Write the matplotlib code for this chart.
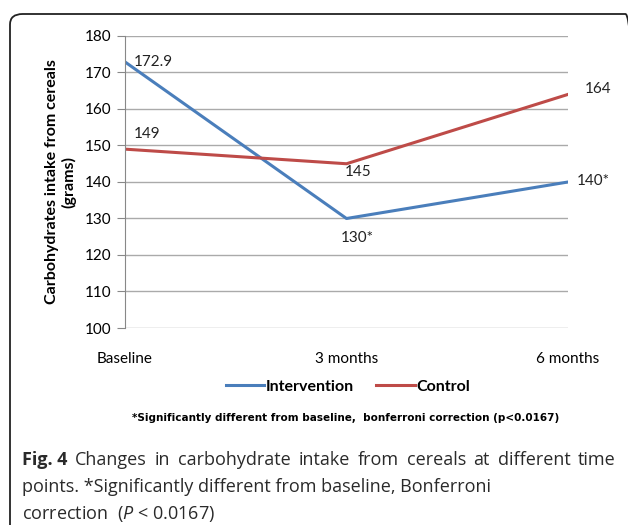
import matplotlib
matplotlib.use("Agg")
import matplotlib.pyplot as plt
from matplotlib.patches import FancyBboxPatch

timepoints = ["Baseline", "3 months", "6 months"]
intervention = [172.9, 130, 140]
control = [149, 145, 164]
intervention_labels = ["172.9", "130*", "140*"]
control_labels = ["149", "145", "164"]
yticks = [100, 110, 120, 130, 140, 150, 160, 170, 180]

blue = "#4A7EBB"
red = "#BE4B48"
plt.rcParams["font.family"] = ["Lato", "DejaVu Sans"]
plt.rcParams["mathtext.fontset"] = "custom"
plt.rcParams["mathtext.it"] = "Open Sans:italic"
plt.rcParams["mathtext.rm"] = "Open Sans"

W, H = 628, 525
fig = plt.figure(figsize=(W / 100, H / 100), dpi=100)

# rounded frame around the chart (right and bottom edges run off the image)
frame = FancyBboxPatch((10 / W, -0.05), 1.0, 1 - 14 / H + 0.05,
                       boxstyle="round,pad=0,rounding_size=0.02",
                       transform=fig.transFigure, fill=False,
                       edgecolor="#222222", linewidth=1.3)
fig.patches.append(frame)

ax = fig.add_axes([125 / W, 1 - 328 / H, (568 - 125) / W, (328 - 36) / H])
x = list(range(len(timepoints)))
ax.plot(x, intervention, color=blue, linewidth=2.2, label="Intervention")
ax.plot(x, control, color=red, linewidth=2.2, label="Control")

ax.set_xlim(0, 2)
ax.set_ylim(100, 180)
ax.set_yticks(yticks)
ax.set_xticks(x)
ax.set_xticklabels(timepoints, fontsize=11)
ax.tick_params(axis="x", length=0, pad=17)
ax.tick_params(axis="y", length=6, color="#888888", labelsize=11, pad=4)
ax.grid(axis="y", color="#AAAAAA", linewidth=1)
ax.set_axisbelow(True)
for side in ["top", "right", "bottom"]:
    ax.spines[side].set_visible(False)
ax.spines["left"].set_color("#888888")
ax.set_ylabel("Carbohydrates intake from cereals\n(grams)", fontsize=11.5,
              fontweight="bold", labelpad=6, linespacing=1.15)

# data labels
offsets_i = [(6, 0), (-4, -14), (6, 1)]
offsets_c = [(6, 11), (-1.5, -6), (12, 4)]
for xi, v, t, off in zip(x, intervention, intervention_labels, offsets_i):
    ax.annotate(t, (xi, v), xytext=off, textcoords="offset points",
                fontsize=11, color="#222222", va="center", ha="left",
                annotation_clip=False)
for xi, v, t, off in zip(x, control, control_labels, offsets_c):
    ax.annotate(t, (xi, v), xytext=off, textcoords="offset points",
                fontsize=11, color="#222222", va="center", ha="left",
                annotation_clip=False)

fig.legend(loc="center", bbox_to_anchor=(348 / W, 1 - 387 / H), ncol=2,
           frameon=False, prop={"weight": "bold", "size": 11.5},
           handlelength=2.4, handletextpad=0.1, columnspacing=1.4)

fig.text(132 / W, 1 - 418 / H,
         "*Significantly different from baseline,  bonferroni correction (p<0.0167)",
         ha="left", va="center", fontsize=7.5, fontweight="bold",
         family=["Liberation Sans Narrow", "DejaVu Sans"])

# caption
cap_size = 13
cap_color = "#2a2a2a"
cap_font = ["Open Sans", "DejaVu Sans"]
r = fig.canvas.get_renderer()


def justify(words, y, x0, x1, first_bold=0):
    items = []
    for i, w in enumerate(words):
        t = fig.text(0, 1 - y / H, w, fontsize=cap_size, va="center",
                     color=cap_color, family=cap_font,
                     fontweight="bold" if i < first_bold else "normal")
        items.append(t)
    widths = [t.get_window_extent(r).width for t in items]
    gap = (x1 - x0 - sum(widths)) / (len(words) - 1)
    pos = x0
    for t, w in zip(items, widths):
        t.set_x(pos / W)
        pos += w + gap


justify(["Fig. 4", "Changes", "in", "carbohydrate", "intake", "from",
         "cereals", "at", "different", "time"], 460, 22, 616, first_bold=1)
fig.text(22 / W, 1 - 487 / H,
         "points. *Significantly different from baseline, Bonferroni",
         fontsize=cap_size, va="center", color=cap_color, family=cap_font)
fig.text(22 / W, 1 - 514 / H, r"correction  ($\mathit{P}$ < 0.0167)",
         fontsize=cap_size, va="center", color=cap_color, family=cap_font)

fig.savefig("out.png", dpi=100)
